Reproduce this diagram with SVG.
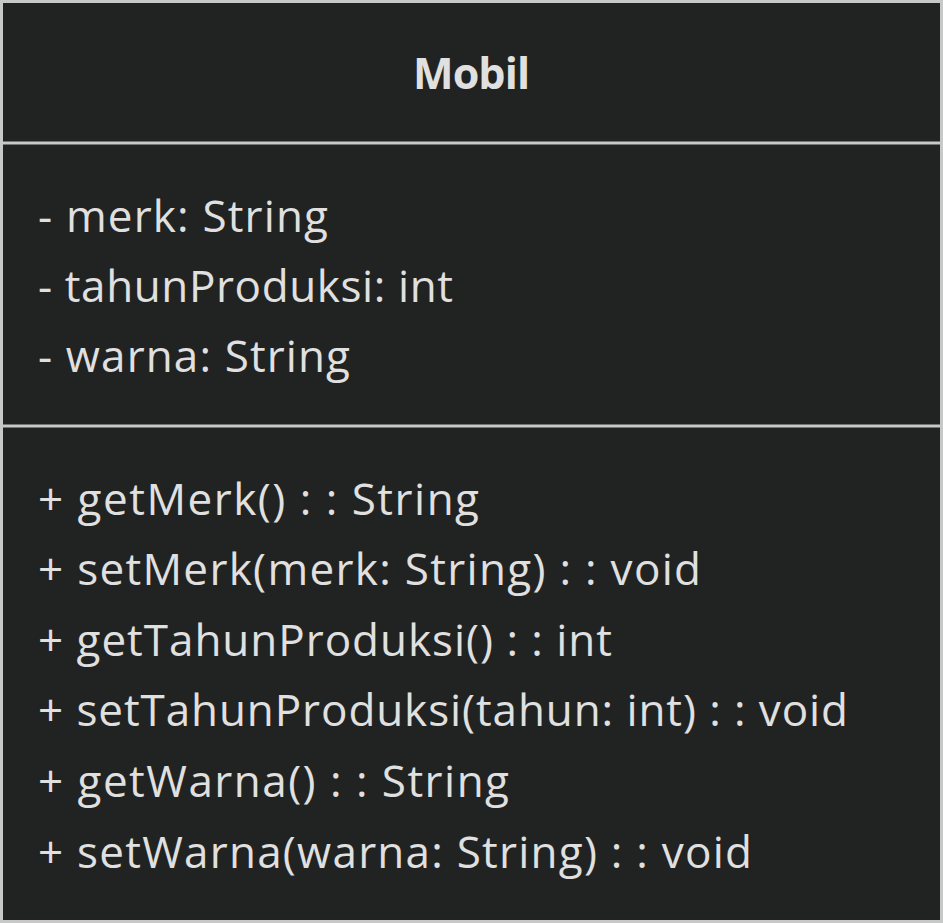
<svg xmlns="http://www.w3.org/2000/svg" width="943" height="923" viewBox="0 0 943 923">
<style>
.t{font-family:"Open Sans","Noto Sans",sans-serif;font-size:44px;fill:#e0e0e0}
.h{font-weight:bold;text-anchor:middle;font-size:43px}
.ln{stroke:#c8c8c8;stroke-width:3}
</style>
<rect x="0" y="0" width="943" height="923" fill="#212322"/>
<g id="Mobil">
<rect x="1.5" y="1.5" width="940" height="920" fill="#212322" class="ln"/>
<line x1="1.5" y1="143" x2="941.5" y2="143" class="ln"/>
<line x1="1.5" y1="426" x2="941.5" y2="426" class="ln"/>
<text class="t h" x="471.5" y="89" textLength="117" lengthAdjust="spacing">Mobil</text>
<text class="t" x="38" y="232" textLength="290" lengthAdjust="spacing">- merk: String</text>
<text class="t" x="38" y="302" textLength="415" lengthAdjust="spacing">- tahunProduksi: int</text>
<text class="t" x="38" y="372" textLength="312" lengthAdjust="spacing">- warna: String</text>
<text class="t" x="38" y="515" textLength="441" lengthAdjust="spacing">+ getMerk() : : String</text>
<text class="t" x="38" y="585" textLength="663" lengthAdjust="spacing">+ setMerk(merk: String) : : void</text>
<text class="t" x="38" y="656" textLength="574" lengthAdjust="spacing">+ getTahunProduksi() : : int</text>
<text class="t" x="38" y="726" textLength="810" lengthAdjust="spacing">+ setTahunProduksi(tahun: int) : : void</text>
<text class="t" x="38" y="797" textLength="471" lengthAdjust="spacing">+ getWarna() : : String</text>
<text class="t" x="38" y="868" textLength="714" lengthAdjust="spacing">+ setWarna(warna: String) : : void</text>
</g>
<g id="connectors"/>
</svg>
